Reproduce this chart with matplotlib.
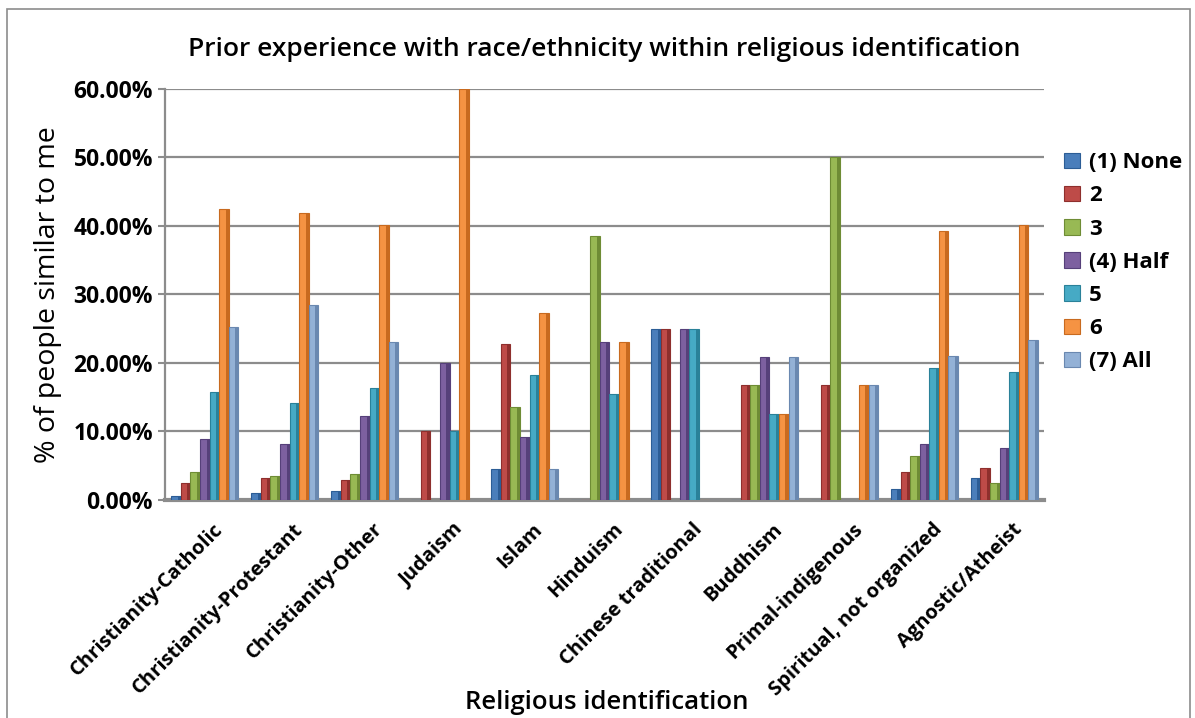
import numpy as np
import matplotlib.pyplot as plt
from matplotlib.patches import Rectangle
from matplotlib.ticker import FuncFormatter

plt.rcParams['font.family'] = ['Open Sans', 'DejaVu Sans']

categories = ['Christianity-Catholic', 'Christianity-Protestant', 'Christianity-Other',
              'Judaism', 'Islam', 'Hinduism', 'Chinese traditional', 'Buddhism',
              'Primal-indigenous', 'Spiritual, not organized', 'Agnostic/Atheist']

series_names = ['(1) None', '2', '3', '(4) Half', '5', '6', '(7) All']

# percent of people similar to me, one list per series (values in %)
none_1 = [0.5, 1.0, 1.3, 0.0, 4.5, 0.0, 25.0, 0.0, 0.0, 1.5, 3.2]
two = [2.4, 3.2, 2.9, 10.0, 22.7, 0.0, 25.0, 16.7, 16.7, 4.0, 4.7]
three = [4.0, 3.4, 3.8, 0.0, 13.6, 38.5, 0.0, 16.7, 50.0, 6.4, 2.4]
half_4 = [8.8, 8.1, 12.2, 20.0, 9.1, 23.1, 25.0, 20.8, 0.0, 8.2, 7.6]
five = [15.8, 14.2, 16.3, 10.0, 18.2, 15.4, 25.0, 12.5, 0.0, 19.2, 18.6]
six = [42.5, 41.9, 40.2, 60.0, 27.3, 23.1, 0.0, 12.5, 16.7, 39.3, 40.1]
all_7 = [25.3, 28.4, 23.0, 0.0, 4.5, 0.0, 0.0, 20.8, 16.7, 21.0, 23.3]

series = [none_1, two, three, half_4, five, six, all_7]
colors = ['#4a7ebb', '#be4b48', '#98b954', '#7d60a0', '#46aac5', '#f59343', '#93b1d6']
edges = ['#2c5d96', '#8e2f2d', '#6e8c35', '#56407a', '#2a8199', '#c86a1f', '#6a88b0']

fig = plt.figure(figsize=(11.95, 7.18), dpi=100)
ax = fig.add_axes([0.138, 0.304, 0.736, 0.572])

x = np.arange(len(categories))
w = 0.12
for i, (vals, c, ec) in enumerate(zip(series, colors, edges)):
    pos = x + (i - 3) * w
    ax.bar(pos, vals, w, color=c, edgecolor=ec, linewidth=0.8,
           label=series_names[i], zorder=3)
    # darker side strip for the 3d look
    ax.bar(pos + w * 0.34, vals, w * 0.32, color=ec, linewidth=0, zorder=4)

ax.set_xlim(-0.5, len(categories) - 0.5)
ax.set_ylim(0, 60)
ax.set_yticks(np.arange(0, 61, 10))
ax.yaxis.set_major_formatter(FuncFormatter(lambda v, p: f'{v:.2f}%'))
ax.grid(axis='y', color='#8c8c8c', linewidth=1.6, zorder=0)
ax.tick_params(axis='y', labelsize=16.5, length=5, color='#8c8c8c', width=1.5)
for lab in ax.get_yticklabels():
    lab.set_fontweight('bold')

for s in ['top', 'right']:
    ax.spines[s].set_visible(False)
ax.spines['left'].set_color('#8c8c8c')
ax.spines['left'].set_linewidth(1.6)
ax.spines['bottom'].set_color('#8c8c8c')
ax.spines['bottom'].set_linewidth(3)

ax.set_xticks(x + 0.1)
ax.set_xticklabels(categories, rotation=45, ha='right', rotation_mode='anchor',
                   fontsize=14.5, fontweight='bold')
ax.tick_params(axis='x', length=0, pad=14)

ax.set_title('Prior experience with race/ethnicity within religious identification',
             fontsize=19, fontweight='semibold', pad=24)
ax.set_ylabel('% of people similar to me', fontsize=20.5, labelpad=8)
fig.text(0.508, 0.012, 'Religious identification', fontsize=18.5, ha='center',
         fontweight='semibold')

ax.legend(loc='upper left', bbox_to_anchor=(1.0, 0.895), frameon=False,
          prop={'weight': 'bold', 'size': 16}, handlelength=0.7,
          handleheight=0.7, labelspacing=0.55, handletextpad=0.4)

fig.patches.append(Rectangle((0.006, -0.01), 0.99, 0.998, transform=fig.transFigure,
                             fill=False, edgecolor='#8c8c8c', linewidth=1.2))

fig.savefig('out.png', dpi=100)
